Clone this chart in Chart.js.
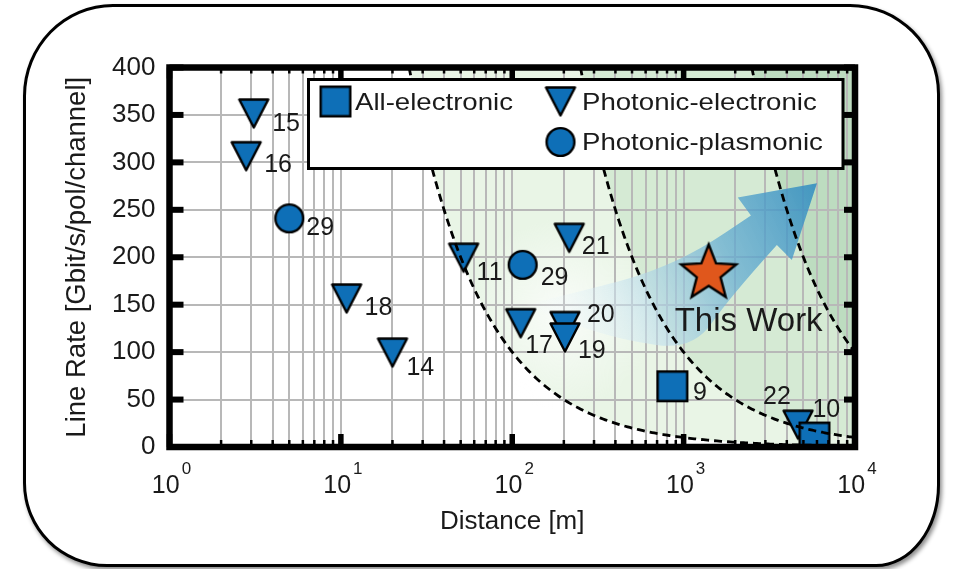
<!DOCTYPE html>
<html>
<head>
<meta charset="utf-8">
<script src="https://cdn.jsdelivr.net/npm/chart.js@4.4.1/dist/chart.umd.min.js"></script>
<style>
  html, body { margin: 0; padding: 0; background: #fff; }
  #wrap { position: relative; width: 954px; height: 569px; overflow: hidden; }
  #card {
    position: absolute; left: 23px; top: 4px; width: 911px; height: 557px;
    border: 3px solid #000;
    border-radius: 90px 90px 64px 84px / 92px 90px 82px 84px;
    box-shadow: 2px 3px 4px rgba(0, 0, 0, 0.45);
    background: #fff;
  }
  canvas { position: absolute; left: 0; top: 0; }
</style>
</head>
<body>
<div id="wrap">
  <div id="card"></div>
  <canvas id="chart" width="954" height="569"></canvas>
</div>
<script>
// ---- data: distance [m], line rate [Gbit/s/pol/channel], reference tag ----
const seriesNames = ['All-electronic', 'Photonic-electronic', 'Photonic-plasmonic'];

const allElectronicDist = [860, 5800];
const allElectronicRate = [64, 10];
const allElectronicRef  = ['9', '10'];

const photonicElectronicDist = [3.1, 2.8, 10.8, 20, 52, 215, 112, 203, 203, 4650];
const photonicElectronicRate = [352, 307, 157, 100, 200, 221, 131, 128, 116, 24];
const photonicElectronicRef  = ['15', '16', '18', '14', '11', '21', '17', '20', '19', '22'];

const photonicPlasmonicDist = [5, 115];
const photonicPlasmonicRate = [241, 192];
const photonicPlasmonicRef  = ['29', '29'];

const thisWorkDist  = [1400];
const thisWorkRate  = [183];
const thisWorkLabel = ['This Work'];

// constant rate x distance guides [Gbit/s * m]
const productGuides = [1e4, 1e5, 1e6];

// axes
const yMin = 0, yMax = 400, yStep = 50;
const xDecades = [1, 10, 100, 1000, 10000];
const xDecadeExp = ['0', '1', '2', '3', '4'];
const xGridMultipliers = [1, 2, 3, 4, 5, 6, 7, 8, 9];

// trend arrow outline, in (distance, rate)
const arrowUpper = [[120, 150], [325, 169], [640, 184], [1250, 208], [2470, 244]];
const arrowHead  = [[2070, 263], [6000, 278], [4280, 197], [3500, 213]];
const arrowLower = [[3500, 213], [1860, 158], [1130, 102], [425, 113], [190, 134], [120, 150]];

// ---- styling ----
const FONT = '"Liberation Sans", Arial, Helvetica, sans-serif';
const INK = '#1a1a1a';
const GRID = '#b8b8b8';
const BLUE = '#0e6fb7';
const ORANGE = '#e0571c';

// text placement of reference tags relative to their marker (left, baseline)
const refLabelOffsets = [
  [[20.5, 14], [-2, -21]],
  [[18.5, 17.5], [18, 16.5], [18, 16.5], [14, 22.5], [13, 23], [12.5, 16.5], [4.5, 30.5], [22, -4], [13, 21], [-35, -20]],
  [[17, 17], [18, 20.5]],
];
const thisWorkOffset = [40, 58];

function markerCanvas(kind) {
  const s = kind === 'star' ? 68 : 34;
  const c = document.createElement('canvas');
  c.width = s; c.height = s;
  const g = c.getContext('2d');
  const m = s / 2;
  g.lineWidth = 2.4;
  g.strokeStyle = '#000';
  g.fillStyle = kind === 'star' ? ORANGE : BLUE;
  g.lineJoin = 'miter';
  g.beginPath();
  if (kind === 'rect') {
    g.rect(2.2, 2.2, s - 4.4, s - 4.4);
  } else if (kind === 'triangle') {
    g.lineJoin = 'round';
    g.moveTo(2.5, 3.5); g.lineTo(s - 2.5, 3.5); g.lineTo(m, s - 2.5); g.closePath();
  } else if (kind === 'circle') {
    g.arc(m, m, 13.9, 0, Math.PI * 2);
  } else {
    const R = 29, r = 12.5;
    for (let i = 0; i < 10; i++) {
      const a = -Math.PI / 2 + i * Math.PI / 5;
      const rr = i % 2 === 0 ? R : r;
      const px = m + rr * Math.cos(a), py = m + rr * Math.sin(a);
      if (i === 0) g.moveTo(px, py); else g.lineTo(px, py);
    }
    g.closePath();
  }
  g.fill();
  g.stroke();
  return c;
}

const marks = {
  rect: markerCanvas('rect'),
  triangle: markerCanvas('triangle'),
  circle: markerCanvas('circle'),
  star: markerCanvas('star'),
};

const toPts = (xs, ys) => xs.map((v, i) => ({ x: v, y: ys[i] }));
const pointRefs = [allElectronicRef, photonicElectronicRef, photonicPlasmonicRef];

const xGridValues = [];
xDecades.slice(0, -1).forEach(d => xGridMultipliers.forEach(k => xGridValues.push(k * d)));
xGridValues.push(xDecades[xDecades.length - 1]);

// green regions beyond each guide, plus soft glow
const regionFill = {
  id: 'regionFill',
  beforeDraw(chart) {
    const { ctx, chartArea: a, scales: { x, y } } = chart;
    const tints = ['rgba(196,228,190,0.38)', 'rgba(165,210,170,0.30)', 'rgba(130,185,145,0.28)'];
    ctx.save();
    ctx.beginPath();
    ctx.rect(a.left, a.top, a.right - a.left, a.bottom - a.top);
    ctx.clip();
    productGuides.forEach((c, gi) => {
      const x0 = Math.log10(c / yMax), x1 = Math.log10(xDecades[xDecades.length - 1]);
      ctx.beginPath();
      for (let i = 0; i <= 200; i++) {
        const xv = Math.pow(10, x0 + (x1 - x0) * i / 200);
        const px = x.getPixelForValue(xv), py = y.getPixelForValue(c / xv);
        if (i === 0) ctx.moveTo(px, py); else ctx.lineTo(px, py);
      }
      ctx.lineTo(a.right, a.top);
      ctx.closePath();
      ctx.fillStyle = tints[gi];
      ctx.fill();
    });
    // pale glow around the arrow tail
    const gx = x.getPixelForValue(arrowUpper[0][0] * 1.6), gy = y.getPixelForValue(arrowUpper[0][1] - 10);
    const rg = ctx.createRadialGradient(gx, gy, 0, gx, gy, 95);
    rg.addColorStop(0, 'rgba(255,255,255,0.75)');
    rg.addColorStop(1, 'rgba(255,255,255,0)');
    ctx.fillStyle = rg;
    ctx.fillRect(gx - 100, gy - 100, 200, 200);
    ctx.restore();
  }
};

function smoothThrough(ctx, pts, first) {
  if (first) ctx.moveTo(pts[0][0], pts[0][1]); else ctx.lineTo(pts[0][0], pts[0][1]);
  for (let i = 1; i < pts.length - 1; i++) {
    const mx = (pts[i][0] + pts[i + 1][0]) / 2, my = (pts[i][1] + pts[i + 1][1]) / 2;
    ctx.quadraticCurveTo(pts[i][0], pts[i][1], mx, my);
  }
  const l = pts[pts.length - 1];
  ctx.lineTo(l[0], l[1]);
}

const trendArrow = {
  id: 'trendArrow',
  beforeDatasetsDraw(chart) {
    const { ctx, chartArea: a, scales: { x, y } } = chart;
    const P = ([d, r]) => [x.getPixelForValue(d), y.getPixelForValue(r)];
    const up = arrowUpper.map(P), head = arrowHead.map(P), low = arrowLower.map(P);
    ctx.save();
    ctx.beginPath();
    ctx.rect(a.left, a.top, a.right - a.left, a.bottom - a.top);
    ctx.clip();
    ctx.beginPath();
    smoothThrough(ctx, up, true);
    head.forEach(p => ctx.lineTo(p[0], p[1]));
    smoothThrough(ctx, low, false);
    ctx.closePath();
    const g = ctx.createLinearGradient(up[0][0], up[0][1] + 20, head[1][0], head[1][1]);
    g.addColorStop(0, 'rgba(255,255,255,0)');
    g.addColorStop(0.3, 'rgba(205,230,242,0.55)');
    g.addColorStop(0.65, 'rgba(100,172,210,0.72)');
    g.addColorStop(1, 'rgba(45,138,192,0.85)');
    ctx.fillStyle = g;
    ctx.fill();
    ctx.restore();
  }
};

const guidesFrameLabels = {
  id: 'guidesFrameLabels',
  afterDatasetsDraw(chart) {
    const { ctx, chartArea: a, scales: { x, y } } = chart;
    ctx.save();
    // dashed guide curves
    ctx.beginPath();
    ctx.rect(a.left, a.top, a.right - a.left, a.bottom - a.top);
    ctx.clip();
    ctx.setLineDash([8, 5]);
    ctx.lineWidth = 2.8;
    ctx.strokeStyle = '#000';
    productGuides.forEach(c => {
      const x0 = Math.log10(c / yMax), x1 = Math.log10(xDecades[xDecades.length - 1]);
      ctx.beginPath();
      for (let i = 0; i <= 200; i++) {
        const xv = Math.pow(10, x0 + (x1 - x0) * i / 200);
        const px = x.getPixelForValue(xv), py = y.getPixelForValue(c / xv);
        if (i === 0) ctx.moveTo(px, py); else ctx.lineTo(px, py);
      }
      ctx.stroke();
    });
    ctx.restore();

    // frame with inward ticks
    ctx.save();
    ctx.fillStyle = '#000';
    y.ticks.forEach(t => {
      const py = y.getPixelForValue(t.value);
      ctx.fillRect(a.left, py - 3, 14, 6);
      ctx.fillRect(a.right - 11, py - 3, 11, 6);
    });
    x.ticks.forEach(t => {
      const px = x.getPixelForValue(t.value);
      const major = xDecades.includes(t.value);
      const len = major ? 13 : 7, w = major ? 5.5 : 2.5;
      ctx.fillRect(px - w / 2, a.bottom - len, w, len);
      ctx.fillRect(px - w / 2, a.top, w, major ? 11 : 6);
    });
    ctx.lineWidth = 6.5;
    ctx.strokeStyle = '#000';
    ctx.strokeRect(a.left, a.top, a.right - a.left, a.bottom - a.top);
    ctx.restore();

    // reference tags next to markers
    ctx.save();
    ctx.fillStyle = INK;
    ctx.textAlign = 'left';
    ctx.textBaseline = 'alphabetic';
    ctx.font = '25px ' + FONT;
    pointRefs.forEach((refs, di) => {
      const meta = chart.getDatasetMeta(di);
      refs.forEach((txt, j) => {
        const el = meta.data[j];
        const [dx, dy] = refLabelOffsets[di][j];
        ctx.fillText(txt, el.x + dx, el.y + dy);
      });
    });
    const star = chart.getDatasetMeta(3).data[0];
    ctx.font = '33px ' + FONT;
    ctx.textAlign = 'center';
    ctx.fillText(thisWorkLabel[0], star.x + thisWorkOffset[0], star.y + thisWorkOffset[1]);

    // decade labels 10^n under the x axis
    ctx.textAlign = 'left';
    xDecades.forEach((d, i) => {
      const px = x.getPixelForValue(d);
      ctx.font = '25px ' + FONT;
      const wb = ctx.measureText('10').width;
      ctx.font = '17px ' + FONT;
      const we = ctx.measureText(xDecadeExp[i]).width;
      const sx = px - (wb + we) / 2 + 1;
      ctx.font = '25px ' + FONT;
      ctx.fillText('10', sx, a.bottom + 46);
      ctx.font = '17px ' + FONT;
      ctx.fillText(xDecadeExp[i], sx + wb + 2, a.bottom + 27);
    });
    ctx.restore();
  },
  afterDraw(chart) {
    // legend box
    const { ctx, chartArea: a } = chart;
    const L = a.left + 139, T = a.top + 12, R = a.right - 12, B = T + 89;
    ctx.save();
    ctx.fillStyle = '#fff';
    ctx.fillRect(L, T, R - L, B - T);
    ctx.lineWidth = 3;
    ctx.strokeStyle = '#000';
    ctx.strokeRect(L, T, R - L, B - T);
    const items = [
      { img: marks.rect, mx: L + 27, my: T + 22, tx: L + 46.5, ty: T + 30.5, text: chart.data.datasets[0].label },
      { img: marks.triangle, mx: L + 252, my: T + 21.5, tx: L + 273.5, ty: T + 30.5, text: chart.data.datasets[1].label },
      { img: marks.circle, mx: L + 252, my: T + 62.5, tx: L + 273.5, ty: T + 70.5, text: chart.data.datasets[2].label },
    ];
    ctx.fillStyle = INK;
    ctx.font = '24px ' + FONT;
    ctx.textBaseline = 'alphabetic';
    items.forEach(it => {
      ctx.drawImage(it.img, it.mx - it.img.width / 2, it.my - it.img.height / 2);
      ctx.save();
      ctx.translate(it.tx, it.ty);
      ctx.scale(1.15, 1);
      ctx.fillText(it.text, 0, 0);
      ctx.restore();
    });
    ctx.restore();
  }
};

new Chart(document.getElementById('chart'), {
  type: 'scatter',
  data: {
    datasets: [
      { label: seriesNames[0], data: toPts(allElectronicDist, allElectronicRate), pointStyle: marks.rect, order: 1 },
      { label: seriesNames[1], data: toPts(photonicElectronicDist, photonicElectronicRate), pointStyle: marks.triangle, order: 2 },
      { label: seriesNames[2], data: toPts(photonicPlasmonicDist, photonicPlasmonicRate), pointStyle: marks.circle, order: 3 },
      { label: thisWorkLabel[0], data: toPts(thisWorkDist, thisWorkRate), pointStyle: marks.star, order: 0 },
    ]
  },
  options: {
    responsive: false,
    animation: false,
    events: [],
    devicePixelRatio: 1,
    elements: { point: { radius: 16, hoverRadius: 16 } },
    layout: { padding: { left: 0, right: 99, top: 67.5, bottom: 0 } },
    plugins: { legend: { display: false }, tooltip: { enabled: false } },
    scales: {
      x: {
        type: 'logarithmic',
        min: xDecades[0],
        max: xDecades[xDecades.length - 1],
        afterBuildTicks(scale) { scale.ticks = xGridValues.map(v => ({ value: v })); },
        afterFit(scale) { scale.height = 122; },
        ticks: { display: false },
        grid: { color: GRID, lineWidth: 2, drawTicks: false },
        border: { display: false },
        title: {
          display: true, text: 'Distance [m]', color: INK,
          font: { family: FONT, size: 26 }, padding: { top: 0, bottom: 32 }
        }
      },
      y: {
        min: yMin, max: yMax,
        afterFit(scale) { scale.width = 169.5; },
        ticks: { stepSize: yStep, color: INK, font: { family: FONT, size: 26 }, padding: 14 },
        grid: { color: GRID, lineWidth: 2, drawTicks: false },
        border: { display: false },
        title: {
          display: true, text: 'Line Rate [Gbit/s/pol/channel]', color: INK,
          font: { family: FONT, size: 27.5 }, padding: { top: 61, bottom: 0 }
        }
      }
    }
  },
  plugins: [regionFill, trendArrow, guidesFrameLabels]
});
</script>
</body>
</html>
